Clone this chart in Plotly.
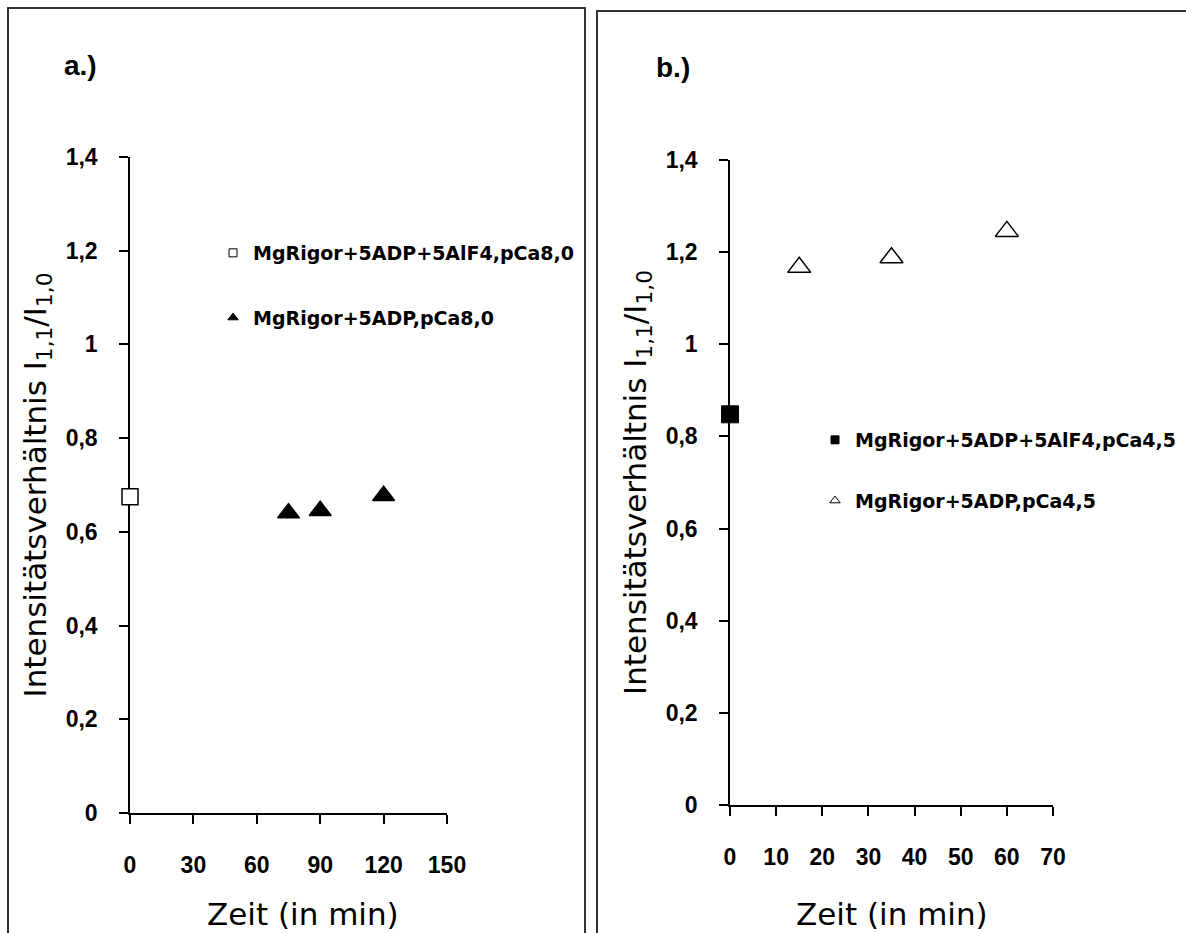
import plotly.graph_objects as go

W, H = 1186, 933

# ---------------- data ----------------
a_alf4_x = [0]
a_alf4_y = [0.675]
a_adp_x = [75, 90, 120]
a_adp_y = [0.640, 0.645, 0.677]

b_alf4_x = [0]
b_alf4_y = [0.848]
b_adp_x = [15, 35, 60]
b_adp_y = [1.167, 1.188, 1.245]

a_x_ticks = [0, 30, 60, 90, 120, 150]
b_x_ticks = [0, 10, 20, 30, 40, 50, 60, 70]
y_ticks = [0, 0.2, 0.4, 0.6, 0.8, 1.0, 1.2, 1.4]
y_tick_text = ["0", "0,2", "0,4", "0,6", "0,8", "1", "1,2", "1,4"]

a_names = ["MgRigor+5ADP+5AlF4,pCa8,0", "MgRigor+5ADP,pCa8,0"]
b_names = ["MgRigor+5ADP+5AlF4,pCa4,5", "MgRigor+5ADP,pCa4,5"]

x_title = "Zeit (in min)"
y_title = "Intensitätsverhältnis I<sub>1,1</sub>/I<sub>1,0</sub>"

# ---------------- helpers ----------------
def px_x(p):
    return p / W

def px_y(p):
    return 1 - p / H

TICK_FONT = dict(family="Liberation Sans, Arial", size=23, color="black", weight="bold")
TITLE_FONT = dict(family="DejaVu Sans", size=31, color="black")
LEG_FONT = dict(family="DejaVu Sans", size=19, color="black", weight="bold")

fig = go.Figure()

# panel a data
fig.add_trace(go.Scatter(x=a_alf4_x, y=a_alf4_y, mode="markers", xaxis="x", yaxis="y",
                         marker=dict(symbol="square", size=16, color="white",
                                     line=dict(color="black", width=1.5)),
                         cliponaxis=False, showlegend=False))
fig.add_trace(go.Scatter(x=a_adp_x, y=a_adp_y, mode="markers", xaxis="x", yaxis="y",
                         marker=dict(symbol="triangle-up", size=19, color="black",
                                     line=dict(color="black", width=1.5)),
                         cliponaxis=False, showlegend=False))
# panel b data
fig.add_trace(go.Scatter(x=b_alf4_x, y=b_alf4_y, mode="markers", xaxis="x2", yaxis="y2",
                         marker=dict(symbol="square", size=17, color="black",
                                     line=dict(color="black", width=1)),
                         cliponaxis=False, showlegend=False))
fig.add_trace(go.Scatter(x=b_adp_x, y=b_adp_y, mode="markers", xaxis="x2", yaxis="y2",
                         marker=dict(symbol="triangle-up", size=20, color="white",
                                     line=dict(color="black", width=1.5)),
                         cliponaxis=False, showlegend=False))

# legend entries (small symbols as in the reference)
fig.add_trace(go.Scatter(x=[None], y=[None], mode="markers", xaxis="x", yaxis="y",
                         name=a_names[0], legend="legend", legendgroup="a1",
                         marker=dict(symbol="square", size=8, color="white",
                                     line=dict(color="black", width=1))))
fig.add_trace(go.Scatter(x=[None], y=[None], mode="markers", xaxis="x", yaxis="y",
                         name=a_names[1], legend="legend", legendgroup="a2",
                         marker=dict(symbol="triangle-up", size=9, color="black",
                                     line=dict(color="black", width=1))))
fig.add_trace(go.Scatter(x=[None], y=[None], mode="markers", xaxis="x2", yaxis="y2",
                         name=b_names[0], legend="legend2", legendgroup="b1",
                         marker=dict(symbol="square", size=8, color="black",
                                     line=dict(color="black", width=1))))
fig.add_trace(go.Scatter(x=[None], y=[None], mode="markers", xaxis="x2", yaxis="y2",
                         name=b_names[1], legend="legend2", legendgroup="b2",
                         marker=dict(symbol="triangle-up", size=9, color="white",
                                     line=dict(color="black", width=1))))

axis_common = dict(showline=True, linecolor="black", linewidth=1.5, ticks="outside",
                   ticklen=9, tickwidth=1.5, tickcolor="black", showgrid=False,
                   zeroline=False, tickfont=TICK_FONT, layer="below traces",
                   automargin=False)

# panel frames kept inside the page (open at the bottom / right, like the reference)
frame_a = f"M {px_x(8)},0 L {px_x(8)},{px_y(8)} L {px_x(585)},{px_y(8)} L {px_x(585)},0"
frame_b = f"M {px_x(597)},0 L {px_x(597)},{px_y(11)} L 1,{px_y(11)}"

fig.update_layout(
    width=W, height=H, margin=dict(l=0, r=0, t=0, b=0, autoexpand=False),
    paper_bgcolor="white", plot_bgcolor="white",
    xaxis=dict(domain=[px_x(130), px_x(447)], range=[0, 150], tickvals=a_x_ticks,
               anchor="y", ticklabelstandoff=22, **axis_common),
    yaxis=dict(domain=[px_y(813), px_y(157)], range=[0, 1.4], tickvals=y_ticks,
               ticktext=y_tick_text, anchor="x", ticklabelstandoff=17,
               title=dict(text=y_title, font=TITLE_FONT, standoff=10), **axis_common),
    xaxis2=dict(domain=[px_x(730), px_x(1053)], range=[0, 70], tickvals=b_x_ticks,
                anchor="y2", ticklabelstandoff=22, **axis_common),
    yaxis2=dict(domain=[px_y(805), px_y(160)], range=[0, 1.4], tickvals=y_ticks,
                ticktext=y_tick_text, anchor="x2", ticklabelstandoff=17,
                title=dict(text=y_title, font=TITLE_FONT, standoff=10), **axis_common),
    legend=dict(x=px_x(213), y=px_y(234), xanchor="left", yanchor="top",
                font=LEG_FONT, traceorder="grouped", tracegroupgap=37,
                bgcolor="rgba(0,0,0,0)", itemwidth=30),
    legend2=dict(x=px_x(815), y=px_y(421), xanchor="left", yanchor="top",
                 font=LEG_FONT, traceorder="grouped", tracegroupgap=33,
                 bgcolor="rgba(0,0,0,0)", itemwidth=30),
    shapes=[
        dict(type="path", xref="paper", yref="paper", path=frame_a,
             line=dict(color="#333333", width=2)),
        dict(type="path", xref="paper", yref="paper", path=frame_b,
             line=dict(color="#333333", width=2)),
    ],
    annotations=[
        # x-axis titles
        dict(text=x_title, xref="x domain", yref="paper", x=0.545, y=px_y(914),
             xanchor="center", yanchor="middle", showarrow=False, font=TITLE_FONT),
        dict(text=x_title, xref="x2 domain", yref="paper", x=0.5, y=px_y(914),
             xanchor="center", yanchor="middle", showarrow=False, font=TITLE_FONT),
        # panel labels
        dict(text="a.)", xref="paper", yref="paper", x=px_x(62), y=px_y(65),
             xanchor="left", yanchor="middle", showarrow=False,
             font=dict(family="Liberation Sans, Arial", size=28, color="black", weight="bold")),
        dict(text="b.)", xref="paper", yref="paper", x=px_x(654), y=px_y(67),
             xanchor="left", yanchor="middle", showarrow=False,
             font=dict(family="Liberation Sans, Arial", size=28, color="black", weight="bold")),
    ],
)

fig.write_html(
    "out.html",
    post_script="document.documentElement.style.margin='0';document.body.style.margin='0';"
                "document.body.style.overflow='hidden';document.documentElement.style.overflow='hidden';",
)
